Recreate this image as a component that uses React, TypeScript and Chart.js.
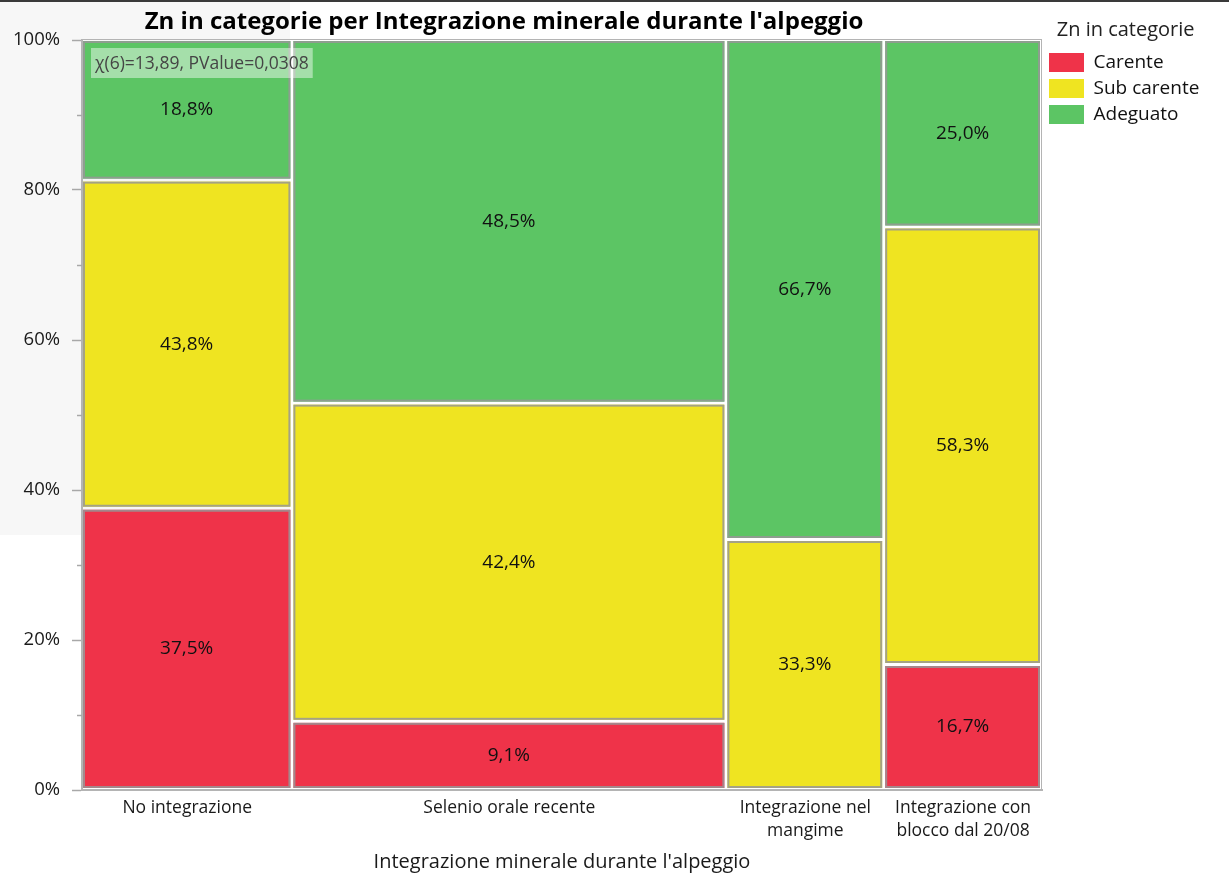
import React, { useEffect, useRef } from 'react';
import { Chart, registerables } from 'chart.js';

Chart.register(...registerables);

const FONT = "'Open Sans', 'Noto Sans', sans-serif";

const chartTitle = "Zn in categorie per Integrazione minerale durante l'alpeggio";
const xAxisTitle = "Integrazione minerale durante l'alpeggio";
const legendTitle = 'Zn in categorie';
const statText = 'χ(6)=13,89, PValue=0,0308';

const categories = [
  ['No integrazione'],
  ['Selenio orale recente'],
  ['Integrazione nel', 'mangime'],
  ['Integrazione con', 'blocco dal 20/08'],
];
const levels = ['Carente', 'Sub carente', 'Adeguato'];
const carente = [6, 3, 0, 2];
const subCarente = [7, 14, 4, 7];
const adeguato = [3, 16, 8, 3];
const levelColors = ['#EF3349', '#EFE421', '#5CC564'];
const yTickStep = 20;
const yMinorTicks = [10, 30, 50, 70, 90];

const series = [carente, subCarente, adeguato];
const totals = categories.map((_, i) => series.reduce((s, a) => s + a[i], 0));
const grand = totals.reduce((a, b) => a + b, 0);
const starts = totals.map((_, i) => totals.slice(0, i).reduce((a, b) => a + b, 0));
const centers = totals.map((t, i) => starts[i] + t / 2);

type Cell = { x0: number; x1: number; y0: number; y1: number; pct: number; k: number };
const cells: Cell[] = [];
categories.forEach((_, i) => {
  let cum = 0;
  series.forEach((arr, k) => {
    const pct = (arr[i] / totals[i]) * 100;
    if (arr[i] > 0) {
      cells.push({ x0: starts[i], x1: starts[i] + totals[i], y0: cum, y1: cum + pct, pct, k });
    }
    cum += pct;
  });
});

const fmtPct = (v: number) => v.toFixed(1).replace('.', ',') + '%';

const mosaicPlugin = {
  id: 'mosaic',
  beforeDraw(chart: any) {
    const { ctx, width } = chart;
    ctx.save();
    ctx.fillStyle = '#f7f7f7';
    ctx.fillRect(0, 2, 290, 533);
    ctx.fillStyle = '#3a3a3a';
    ctx.fillRect(0, 0, width, 2);
    ctx.restore();
  },
  beforeDatasetsDraw(chart: any) {
    const { ctx, chartArea } = chart;
    const xs = chart.scales.x;
    const ys = chart.scales.y;
    ctx.save();
    ctx.strokeStyle = '#b4b4b4';
    ctx.lineWidth = 1;
    ctx.strokeRect(chartArea.left + 0.5, chartArea.top - 0.5, chartArea.right - chartArea.left - 1, chartArea.bottom - chartArea.top);
    cells.forEach((c) => {
      const left = xs.getPixelForValue(c.x0) + 1;
      const right = xs.getPixelForValue(c.x1) - 2;
      const top = ys.getPixelForValue(c.y1) + 1;
      const bottom = ys.getPixelForValue(c.y0) - 2;
      ctx.fillStyle = levelColors[c.k];
      ctx.fillRect(left, top, right - left, bottom - top);
      ctx.strokeStyle = 'rgba(150,150,150,0.85)';
      ctx.lineWidth = 2;
      ctx.strokeRect(left + 1, top + 1, right - left - 2, bottom - top - 2);
      ctx.fillStyle = '#111';
      ctx.font = `19px ${FONT}`;
      ctx.textAlign = 'center';
      ctx.textBaseline = 'middle';
      ctx.fillText(fmtPct(c.pct), (left + right) / 2, (top + bottom) / 2);
    });
    ctx.font = `17.5px ${FONT}`;
    const tw = ctx.measureText(statText).width;
    const bx = chartArea.left + 9;
    const by = chartArea.top + 8;
    ctx.fillStyle = 'rgba(255,255,255,0.45)';
    ctx.fillRect(bx, by, tw + 8, 30);
    ctx.fillStyle = '#454545';
    ctx.textAlign = 'left';
    ctx.textBaseline = 'middle';
    ctx.fillText(statText, bx + 4, by + 16);
    ctx.restore();
  },
  afterDraw(chart: any) {
    const { ctx, chartArea } = chart;
    const ys = chart.scales.y;
    ctx.save();
    ctx.strokeStyle = '#a8a8a8';
    ctx.lineWidth = 1.5;
    yMinorTicks.forEach((v) => {
      const y = Math.round(ys.getPixelForValue(v)) + 0.5;
      ctx.beginPath();
      ctx.moveTo(chartArea.left - 5, y);
      ctx.lineTo(chartArea.left, y);
      ctx.stroke();
    });
    let size = 22;
    ctx.font = `bold ${size}px ${FONT}`;
    const w = ctx.measureText(chartTitle).width;
    size = Math.max(18, Math.min(24, (22 * 722) / w));
    ctx.font = `bold ${size}px ${FONT}`;
    ctx.fillStyle = '#000';
    ctx.textAlign = 'center';
    ctx.textBaseline = 'middle';
    ctx.fillText(chartTitle, 504, 22);
    ctx.restore();
  },
};

export default function App() {
  const ref = useRef<HTMLCanvasElement | null>(null);
  useEffect(() => {
    if (!ref.current) return;
    const legendFontSize = 19;
    const mctx = document.createElement('canvas').getContext('2d')!;
    mctx.font = `${legendFontSize}px ${FONT}`;
    const maxLabelW = Math.max(...levels.map((l) => mctx.measureText(l).width));
    const legendPadding = 7;
    const boxW = 35;
    const legendW = legendPadding + boxW + legendFontSize / 2 + maxLabelW + 10;
    const padRight = Math.max(0, 1229 - 1042 - legendW);

    const datasets = levels.map((lab, k) => ({
      label: lab,
      data: cells.filter((c) => c.k === k).map((c) => ({ x: (c.x0 + c.x1) / 2, y: (c.y0 + c.y1) / 2 })),
      backgroundColor: levelColors[k],
      borderColor: levelColors[k],
      borderWidth: 0,
      pointRadius: 0,
      showLine: false,
    }));

    const chart = new Chart(ref.current, {
      type: 'scatter',
      data: { datasets },
      plugins: [mosaicPlugin],
      options: {
        animation: false,
        responsive: false,
        events: [],
        layout: { padding: { top: 18, right: padRight, bottom: 0, left: 0 } },
        plugins: {
          tooltip: { enabled: false },
          // reserves the band for the title, which the mosaic plugin draws at its own offset
          title: { display: true, text: '', font: { size: 10, lineHeight: 1.2 }, padding: { top: 5, bottom: 5 } },
          legend: {
            position: 'right',
            align: 'start',
            title: {
              display: true,
              text: legendTitle,
              position: 'center',
              color: '#222',
              font: { size: 20, family: FONT },
              padding: { top: 2, bottom: 2 },
            },
            labels: {
              boxWidth: boxW,
              boxHeight: 19,
              padding: legendPadding,
              color: '#111',
              font: { size: legendFontSize, family: FONT },
            },
          },
        },
        scales: {
          x: {
            type: 'linear',
            min: 0,
            max: grand,
            afterBuildTicks: (s: any) => {
              s.ticks = centers.map((v) => ({ value: v }));
            },
            afterFit: (s: any) => {
              s.height = 95;
            },
            grid: { display: false, drawTicks: false },
            border: { display: true, color: '#b4b4b4', width: 2 },
            ticks: {
              autoSkip: false,
              maxRotation: 0,
              minRotation: 0,
              padding: 6,
              color: '#1a1a1a',
              font: { size: 17.5, family: FONT, lineHeight: 1.35 },
              callback: (_v: any, i: number) => categories[i],
            },
            title: {
              display: true,
              text: xAxisTitle,
              color: '#1a1a1a',
              font: { size: 20, family: FONT },
              padding: { top: 0, bottom: 11 },
            },
          },
          y: {
            type: 'linear',
            min: 0,
            max: 100,
            afterFit: (s: any) => {
              s.width = 82;
            },
            grid: { display: true, drawOnChartArea: false, drawTicks: true, tickLength: 10, tickColor: '#a8a8a8', tickWidth: 1.5 },
            border: { display: true, color: '#b4b4b4', width: 2 },
            ticks: {
              stepSize: yTickStep,
              padding: 12,
              color: '#1a1a1a',
              font: { size: 18.5, family: FONT },
              callback: (v: any) => v + '%',
            },
          },
        },
      },
    });
    return () => chart.destroy();
  }, []);

  return (
    <div style={{ position: 'absolute', left: 0, top: 0, width: 1229, height: 885, background: '#fff' }}>
      <canvas ref={ref} width={1229} height={885} style={{ display: 'block' }} />
    </div>
  );
}
